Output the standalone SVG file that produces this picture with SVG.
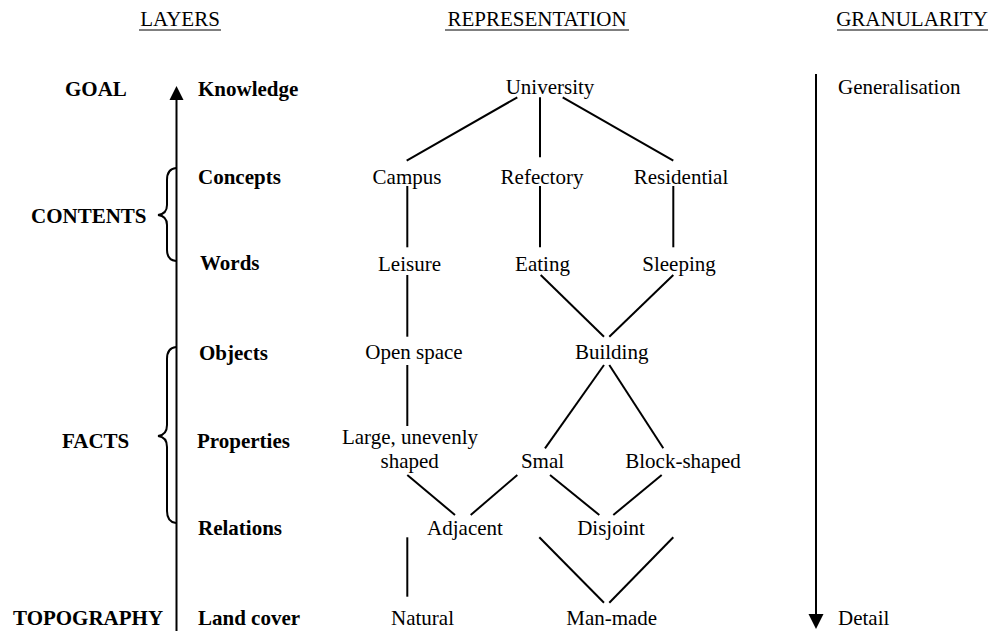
<svg xmlns="http://www.w3.org/2000/svg" width="992" height="631" viewBox="0 0 992 631">
<style>
text{font-family:"Liberation Serif","Times New Roman",serif;font-size:21px;fill:#000}
.b{font-weight:bold}
.m{text-anchor:middle}
.ln{stroke:#000;stroke-width:2;fill:none}
.ul{stroke:#000;stroke-width:1.2}
</style>
<defs>
<marker id="ah" markerWidth="8" markerHeight="8" refX="4" refY="7.5" orient="auto-start-reverse" markerUnits="userSpaceOnUse" viewBox="0 0 8 8"><path d="M0,0 L8,0 L4,8 Z" fill="#000"/></marker>
</defs>
<rect width="992" height="631" fill="#fff"/>
<g id="headers">
<text x="180" y="26" class="m">LAYERS</text><line class="ul" x1="139" y1="30" x2="221" y2="30"/>
<text x="537" y="26" class="m">REPRESENTATION</text><line class="ul" x1="445" y1="30" x2="629" y2="30"/>
<text x="912" y="26" class="m">GRANULARITY</text><line class="ul" x1="837" y1="30" x2="988" y2="30"/>
</g>
<g id="axes">
<line class="ln" x1="176.5" y1="631" x2="176.5" y2="100"/>
<path d="M169.5,100 L183.5,100 L176.5,86 Z" fill="#000"/>
<line class="ln" x1="816" y1="74" x2="816" y2="614"/>
<path d="M808.5,614 L823.5,614 L816,629 Z" fill="#000"/>
<path class="ln" d="M176,168 Q167,169 167,180 L167,205 Q167,214 158,215 Q167,216 167,225 L167,250 Q167,260 176,261"/>
<path class="ln" d="M176,347 Q167,348 167,359 L167,425 Q167,435 158,436 Q167,437 167,447 L167,511 Q167,522 176,523"/>
</g>
<g id="layer-labels">
<text x="65" y="96" class="b">GOAL</text>
<text x="31" y="223" class="b">CONTENTS</text>
<text x="62" y="448" class="b">FACTS</text>
<text x="13" y="625" class="b">TOPOGRAPHY</text>
<text x="198" y="96" class="b">Knowledge</text>
<text x="198" y="184" class="b">Concepts</text>
<text x="200" y="270" class="b">Words</text>
<text x="199" y="360" class="b">Objects</text>
<text x="197" y="448" class="b">Properties</text>
<text x="198" y="535" class="b">Relations</text>
<text x="198" y="625" class="b">Land cover</text>
<text x="838" y="94">Generalisation</text>
<text x="838" y="625">Detail</text>
</g>
<g id="connectors">
<line class="ln" x1="517.3" y1="97.3" x2="406.7" y2="160.7"/>
<line class="ln" x1="540" y1="97.3" x2="540" y2="157.3"/>
<line class="ln" x1="562.7" y1="97.3" x2="673.3" y2="160.7"/>
<line class="ln" x1="407.3" y1="186" x2="407.3" y2="247.3"/>
<line class="ln" x1="540" y1="186" x2="540" y2="247.3"/>
<line class="ln" x1="673.3" y1="186" x2="673.3" y2="247.3"/>
<line class="ln" x1="407.3" y1="275" x2="407.3" y2="336.7"/>
<line class="ln" x1="540.7" y1="275" x2="604" y2="336.7"/>
<line class="ln" x1="673.3" y1="275" x2="609.3" y2="336.7"/>
<line class="ln" x1="407.3" y1="365" x2="407.3" y2="426"/>
<line class="ln" x1="604" y1="365" x2="545" y2="448.3"/>
<line class="ln" x1="609.3" y1="365" x2="663.3" y2="448.3"/>
<line class="ln" x1="407.3" y1="475" x2="455" y2="515"/>
<line class="ln" x1="517.3" y1="475" x2="470.7" y2="515"/>
<line class="ln" x1="550" y1="475" x2="599.3" y2="515"/>
<line class="ln" x1="661.7" y1="475" x2="613.3" y2="515"/>
<line class="ln" x1="407.3" y1="537.3" x2="407.3" y2="596.7"/>
<line class="ln" x1="539.3" y1="537.3" x2="604" y2="602.7"/>
<line class="ln" x1="673.3" y1="537.3" x2="609.3" y2="602.7"/>
</g>
<g id="university"><text x="550" y="94" class="m">University</text></g>
<g id="campus"><text x="407" y="184" class="m">Campus</text></g>
<g id="refectory"><text x="542" y="184" class="m">Refectory</text></g>
<g id="residential"><text x="681" y="184" class="m">Residential</text></g>
<g id="leisure"><text x="409.5" y="271" class="m">Leisure</text></g>
<g id="eating"><text x="542.5" y="271" class="m">Eating</text></g>
<g id="sleeping"><text x="679" y="271" class="m">Sleeping</text></g>
<g id="open-space"><text x="414" y="359" class="m">Open space</text></g>
<g id="building"><text x="611.7" y="359" class="m">Building</text></g>
<g id="large"><text x="410" y="444" class="m">Large, unevenly</text><text x="409.7" y="468" class="m">shaped</text></g>
<g id="smal"><text x="542.5" y="468" class="m">Smal</text></g>
<g id="block-shaped"><text x="683" y="468" class="m">Block-shaped</text></g>
<g id="adjacent"><text x="465" y="535" class="m">Adjacent</text></g>
<g id="disjoint"><text x="611" y="535" class="m">Disjoint</text></g>
<g id="natural"><text x="422.5" y="625" class="m">Natural</text></g>
<g id="man-made"><text x="611.7" y="625" class="m">Man-made</text></g>
</svg>
